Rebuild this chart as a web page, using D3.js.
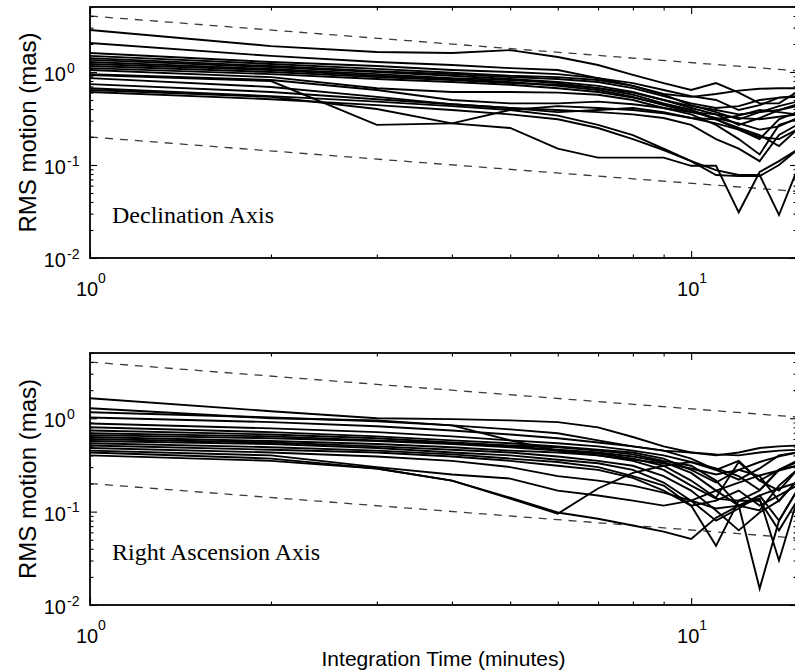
<!DOCTYPE html>
<html>
<head>
<meta charset="utf-8">
<script src="https://cdn.jsdelivr.net/npm/d3@7"></script>
<style>
  html, body { margin: 0; padding: 0; background: #fff; }
  svg { display: block; }
  .tick-lbl, .axis-title { font-family: "Liberation Sans", Arial, Helvetica, sans-serif; fill: #000; }
  .panel-title { font-family: "Liberation Serif", "Times New Roman", serif; fill: #000; }
</style>
</head>
<body>
<svg id="chart" width="795" height="672"></svg>
<script>
// Integration time in minutes
const times = [1, 2, 3, 4, 5, 6, 7, 8, 9, 10, 11, 12, 13, 14, 15];

// RMS motion (mas) per run, declination axis
const declinationRuns = [
  [2.83, 1.90, 1.64, 1.60, 1.72, 1.45, 1.19, 0.93, 0.76, 0.64, 0.76, 0.60, 0.46, 0.46, 0.61],
  [2.05, 1.49, 1.28, 1.19, 1.10, 1.05, 0.86, 0.71, 0.58, 0.54, 0.58, 0.63, 0.66, 0.67, 0.67],
  [1.60, 1.28, 1.16, 1.05, 1.00, 0.95, 0.86, 0.76, 0.64, 0.55, 0.50, 0.39, 0.44, 0.53, 0.55],
  [1.49, 1.22, 1.08, 0.98, 0.91, 0.88, 0.82, 0.71, 0.57, 0.44, 0.37, 0.31, 0.37, 0.43, 0.48],
  [1.41, 1.16, 1.02, 0.95, 0.88, 0.84, 0.78, 0.67, 0.55, 0.46, 0.41, 0.43, 0.50, 0.53, 0.54],
  [1.35, 1.13, 1.00, 0.91, 0.84, 0.78, 0.71, 0.61, 0.50, 0.41, 0.35, 0.27, 0.32, 0.39, 0.43],
  [1.28, 1.08, 0.95, 0.86, 0.82, 0.76, 0.67, 0.57, 0.46, 0.39, 0.31, 0.24, 0.19, 0.31, 0.37],
  [1.22, 1.05, 0.91, 0.84, 0.78, 0.71, 0.64, 0.54, 0.44, 0.37, 0.32, 0.28, 0.24, 0.26, 0.32],
  [1.16, 1.00, 0.88, 0.82, 0.76, 0.73, 0.67, 0.60, 0.50, 0.43, 0.39, 0.35, 0.37, 0.39, 0.45],
  [1.10, 0.95, 0.84, 0.78, 0.73, 0.67, 0.61, 0.53, 0.45, 0.39, 0.31, 0.25, 0.21, 0.16, 0.24],
  [1.05, 0.88, 0.67, 0.61, 0.61, 0.60, 0.57, 0.50, 0.41, 0.35, 0.27, 0.19, 0.13, 0.27, 0.31],
  [0.95, 0.82, 0.64, 0.50, 0.46, 0.46, 0.48, 0.45, 0.41, 0.37, 0.35, 0.32, 0.31, 0.33, 0.35],
  [0.86, 0.69, 0.54, 0.45, 0.41, 0.39, 0.37, 0.35, 0.32, 0.27, 0.19, 0.15, 0.11, 0.21, 0.27],
  [0.74, 0.61, 0.51, 0.45, 0.41, 0.37, 0.39, 0.41, 0.37, 0.32, 0.31, 0.34, 0.39, 0.37, 0.35],
  [0.93, 0.80, 0.27, 0.28, 0.39, 0.43, 0.41, 0.39, 0.36, 0.32, 0.28, 0.24, 0.20, 0.19, 0.24],
  [0.64, 0.54, 0.40, 0.28, 0.25, 0.15, 0.12, 0.12, 0.12, 0.098, 0.098, 0.031, 0.084, 0.11, 0.145],
  [0.61, 0.51, 0.44, 0.39, 0.35, 0.31, 0.25, 0.19, 0.145, 0.11, 0.088, 0.078, 0.078, 0.029, 0.088],
  [0.67, 0.55, 0.48, 0.43, 0.39, 0.34, 0.27, 0.21, 0.15, 0.11, 0.078, 0.076, 0.076, 0.10, 0.145]
];

// RMS motion (mas) per run, right ascension axis
const rightAscensionRuns = [
  [1.64, 1.19, 1.00, 0.98, 0.95, 0.91, 0.80, 0.63, 0.50, 0.43, 0.40, 0.43, 0.48, 0.50, 0.51],
  [1.28, 1.00, 0.95, 0.84, 0.58, 0.45, 0.40, 0.36, 0.33, 0.29, 0.25, 0.28, 0.34, 0.39, 0.43],
  [1.16, 1.02, 0.93, 0.84, 0.76, 0.69, 0.58, 0.50, 0.45, 0.43, 0.41, 0.40, 0.43, 0.45, 0.46],
  [1.02, 0.91, 0.82, 0.74, 0.67, 0.61, 0.55, 0.50, 0.45, 0.37, 0.28, 0.22, 0.29, 0.40, 0.43],
  [0.88, 0.78, 0.71, 0.64, 0.58, 0.54, 0.50, 0.45, 0.40, 0.34, 0.29, 0.24, 0.17, 0.28, 0.35],
  [0.80, 0.71, 0.64, 0.58, 0.54, 0.50, 0.46, 0.43, 0.37, 0.28, 0.205, 0.28, 0.24, 0.13, 0.215],
  [0.74, 0.67, 0.61, 0.55, 0.51, 0.49, 0.45, 0.41, 0.35, 0.31, 0.215, 0.116, 0.015, 0.080, 0.168],
  [0.69, 0.64, 0.58, 0.54, 0.50, 0.46, 0.43, 0.39, 0.34, 0.26, 0.168, 0.116, 0.138, 0.030, 0.131],
  [0.66, 0.61, 0.57, 0.53, 0.49, 0.45, 0.42, 0.37, 0.31, 0.215, 0.141, 0.34, 0.215, 0.168, 0.28],
  [0.63, 0.57, 0.53, 0.49, 0.45, 0.43, 0.40, 0.35, 0.28, 0.19, 0.138, 0.131, 0.168, 0.28, 0.34],
  [0.60, 0.55, 0.50, 0.46, 0.43, 0.39, 0.35, 0.31, 0.24, 0.168, 0.103, 0.063, 0.098, 0.131, 0.215],
  [0.57, 0.53, 0.48, 0.43, 0.40, 0.36, 0.33, 0.28, 0.205, 0.131, 0.080, 0.108, 0.149, 0.080, 0.168],
  [0.54, 0.49, 0.45, 0.41, 0.37, 0.34, 0.30, 0.24, 0.19, 0.116, 0.131, 0.168, 0.116, 0.149, 0.19],
  [0.51, 0.46, 0.43, 0.39, 0.35, 0.31, 0.28, 0.23, 0.168, 0.116, 0.043, 0.131, 0.131, 0.063, 0.131],
  [0.48, 0.43, 0.39, 0.35, 0.30, 0.24, 0.215, 0.19, 0.16, 0.131, 0.108, 0.116, 0.103, 0.19, 0.28],
  [0.43, 0.37, 0.29, 0.215, 0.138, 0.095, 0.177, 0.26, 0.31, 0.34, 0.28, 0.35, 0.215, 0.28, 0.31],
  [0.45, 0.40, 0.30, 0.25, 0.226, 0.168, 0.149, 0.131, 0.116, 0.131, 0.168, 0.205, 0.244, 0.276, 0.31],
  [0.40, 0.35, 0.29, 0.215, 0.141, 0.098, 0.084, 0.071, 0.061, 0.051, 0.086, 0.116, 0.149, 0.177, 0.205]
];

// Dashed reference envelopes (falling as t^-1/2)
const refTimes = [1, 15];
const refUpper = [4.0, 1.03];
const refLower = [0.2, 0.052];

// Axis ticks
const xMajorTicks = [1, 10];
const xMajorExponents = ["0", "1"];
const xMinorTicks = [2, 3, 4, 5, 6, 7, 8, 9];
const yMajorTicks = [0.01, 0.1, 1];
const yMajorExponents = ["-2", "-1", "0"];
const yMinorTicks = [0.02, 0.03, 0.04, 0.05, 0.06, 0.07, 0.08, 0.09,
                     0.2, 0.3, 0.4, 0.5, 0.6, 0.7, 0.8, 0.9, 2, 3, 4, 5];

const panelTitles = ["Declination Axis", "Right Ascension Axis"];
const yAxisTitle = "RMS motion (mas)";
const xAxisTitle = "Integration Time (minutes)";

// Layout
const plotLeft = 90, plotRight = 797;
const panels = [
  { runs: declinationRuns, title: panelTitles[0], top: 7, bottom: 258, titleY: 223 },
  { runs: rightAscensionRuns, title: panelTitles[1], top: 353, bottom: 605, titleY: 560 }
];

const svg = d3.select("#chart");
svg.append("rect").attr("width", 795).attr("height", 672).attr("fill", "#fff");

const x = d3.scaleLog().domain([1, 15]).range([plotLeft, plotRight]);

panels.forEach((p, i) => {
  const y = d3.scaleLog().domain([0.01, 5]).range([p.bottom, p.top]);
  const g = svg.append("g");

  const clipId = "clip" + i;
  svg.append("clipPath").attr("id", clipId)
    .append("rect")
    .attr("x", plotLeft).attr("y", p.top)
    .attr("width", plotRight - plotLeft).attr("height", p.bottom - p.top);

  const plot = g.append("g").attr("clip-path", `url(#${clipId})`);

  // dashed envelopes
  const refLine = d3.line().x((d, j) => x(refTimes[j])).y(d => y(d));
  [refUpper, refLower].forEach(ref => {
    plot.append("path")
      .attr("d", refLine(ref))
      .attr("fill", "none")
      .attr("stroke", "#3a3a3a")
      .attr("stroke-width", 1.3)
      .attr("stroke-dasharray", "8,7");
  });

  // individual runs
  const runLine = d3.line().x((d, j) => x(times[j])).y(d => y(d));
  plot.selectAll("path.run")
    .data(p.runs)
    .join("path")
    .attr("class", "run")
    .attr("d", runLine)
    .attr("fill", "none")
    .attr("stroke", "#000")
    .attr("stroke-width", 1.9)
    .attr("stroke-linejoin", "miter");

  // ticks (pointing inward on all four sides)
  const styleAxis = sel => {
    sel.select(".domain").remove();
    sel.selectAll(".tick line").attr("stroke", "#000").attr("stroke-width", 1.1);
  };
  const addAxis = (axis, tx, ty) => g.append("g")
    .attr("transform", `translate(${tx},${ty})`)
    .call(axis).call(styleAxis);

  addAxis(d3.axisLeft(y).tickValues(yMajorTicks).tickSize(-7).tickFormat(""), plotLeft, 0);
  addAxis(d3.axisLeft(y).tickValues(yMinorTicks).tickSize(-3.5).tickFormat(""), plotLeft, 0);
  addAxis(d3.axisRight(y).tickValues(yMajorTicks).tickSize(-7).tickFormat(""), plotRight, 0);
  addAxis(d3.axisRight(y).tickValues(yMinorTicks).tickSize(-3.5).tickFormat(""), plotRight, 0);
  addAxis(d3.axisBottom(x).tickValues(xMajorTicks).tickSize(-7).tickFormat(""), 0, p.bottom);
  addAxis(d3.axisBottom(x).tickValues(xMinorTicks).tickSize(-3.5).tickFormat(""), 0, p.bottom);
  addAxis(d3.axisTop(x).tickValues(xMajorTicks).tickSize(-7).tickFormat(""), 0, p.top);
  addAxis(d3.axisTop(x).tickValues(xMinorTicks).tickSize(-3.5).tickFormat(""), 0, p.top);

  // frame
  g.append("rect")
    .attr("x", plotLeft).attr("y", p.top)
    .attr("width", plotRight - plotLeft).attr("height", p.bottom - p.top)
    .attr("fill", "none").attr("stroke", "#000").attr("stroke-width", 1.8);

  // y tick labels: 10 with superscript exponent
  yMajorTicks.forEach((v, k) => {
    const ty = y(v);
    g.append("text").attr("class", "tick-lbl")
      .attr("x", 66).attr("y", ty + 9)
      .attr("text-anchor", "end").attr("font-size", 20).text("10");
    g.append("text").attr("class", "tick-lbl")
      .attr("x", 67).attr("y", ty + 0.5)
      .attr("font-size", 14).text(yMajorExponents[k]);
  });

  // x tick labels
  xMajorTicks.forEach((v, k) => {
    const tx = x(v);
    g.append("text").attr("class", "tick-lbl")
      .attr("x", tx - 3).attr("y", p.bottom + 38)
      .attr("text-anchor", "middle").attr("font-size", 20).text("10");
    g.append("text").attr("class", "tick-lbl")
      .attr("x", tx + 8).attr("y", p.bottom + 25)
      .attr("font-size", 14).text(xMajorExponents[k]);
  });

  // y axis title
  g.append("text").attr("class", "axis-title")
    .attr("transform", `translate(36,${(p.top + p.bottom) / 2}) rotate(-90)`)
    .attr("text-anchor", "middle").attr("font-size", 24)
    .text(yAxisTitle);

  // panel caption
  g.append("text").attr("class", "panel-title")
    .attr("x", 112).attr("y", p.titleY)
    .attr("font-size", 24)
    .text(p.title);
});

// shared x axis title
svg.append("text").attr("class", "axis-title")
  .attr("x", (plotLeft + plotRight) / 2).attr("y", 666)
  .attr("text-anchor", "middle").attr("font-size", 21)
  .text(xAxisTitle);
</script>
</body>
</html>
